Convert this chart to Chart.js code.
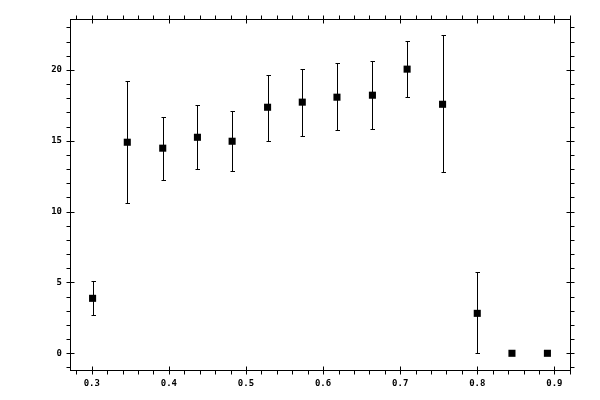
<!DOCTYPE html>
<html>
<head>
<meta charset="utf-8">
<script src="https://cdn.jsdelivr.net/npm/chart.js@4"></script>
<style>
  body { margin: 0; background: #fff; }
  #wrap { width: 600px; height: 400px; }
</style>
</head>
<body>
<div id="wrap"><canvas id="plot"></canvas></div>
<script>
const xValues = [0.301, 0.346, 0.392, 0.437, 0.482, 0.528, 0.573, 0.618, 0.664, 0.709, 0.755, 0.800, 0.845, 0.891];
const yValues = [3.88, 14.9, 14.48, 15.25, 14.97, 17.37, 17.73, 18.08, 18.22, 20.06, 17.58, 2.82, 0, 0];
const errHigh = [5.08, 19.23, 16.67, 17.51, 17.09, 19.68, 20.06, 20.48, 20.62, 22.03, 22.48, 5.74, null, null];
const errLow = [2.68, 10.6, 12.22, 13.0, 12.85, 14.97, 15.32, 15.75, 15.82, 18.08, 12.78, 0, null, null];
const xTicks = [0.3, 0.4, 0.5, 0.6, 0.7, 0.8, 0.9];
const yTicks = [0, 5, 10, 15, 20];
const xMinor = [];
for (let i = 14; i <= 46; i++) xMinor.push(i / 50);
const yMinor = [];
for (let i = -1; i <= 23; i++) yMinor.push(i);

const points = xValues.map((x, i) => ({ x: x, y: yValues[i] }));

// error bars, drawn under the squares
const errorBars = {
  id: 'errorBars',
  beforeDatasetsDraw(chart) {
    const ctx = chart.ctx;
    const xs = chart.scales.x, ys = chart.scales.y;
    ctx.save();
    ctx.strokeStyle = '#000';
    ctx.lineWidth = 1;
    xValues.forEach((x, i) => {
      if (errHigh[i] == null) return;
      const px = Math.round(xs.getPixelForValue(x)) + 0.5;
      const top = Math.round(ys.getPixelForValue(errHigh[i])) + 0.5;
      const bot = Math.round(ys.getPixelForValue(errLow[i])) + 0.5;
      ctx.beginPath();
      ctx.moveTo(px, top); ctx.lineTo(px, bot);
      ctx.moveTo(px - 2, top); ctx.lineTo(px + 2.5, top);
      ctx.moveTo(px - 2, bot); ctx.lineTo(px + 2.5, bot);
      ctx.stroke();
    });
    ctx.restore();
  }
};

// box round the plot with ticks on all four sides
const frame = {
  id: 'frame',
  afterDraw(chart) {
    const ctx = chart.ctx;
    const a = chart.chartArea;
    const xs = chart.scales.x, ys = chart.scales.y;
    const L = Math.round(a.left) + 0.5, R = Math.round(a.right) + 0.5;
    const T = Math.round(a.top) + 0.5, B = Math.round(a.bottom) + 0.5;
    ctx.save();
    ctx.strokeStyle = '#000';
    ctx.lineWidth = 1;
    ctx.strokeRect(L, T, R - L, B - T);
    ctx.beginPath();
    xMinor.forEach(v => {
      const px = Math.round(xs.getPixelForValue(v)) + 0.5;
      const major = xTicks.some(t => Math.abs(t - v) < 1e-6);
      ctx.moveTo(px, B + 4); ctx.lineTo(px, major ? B - 4 : B);
      ctx.moveTo(px, T - 4); ctx.lineTo(px, major ? T + 4 : T);
    });
    yMinor.forEach(v => {
      const py = Math.round(ys.getPixelForValue(v)) + 0.5;
      const major = yTicks.includes(v);
      ctx.moveTo(L - 4, py); ctx.lineTo(major ? L + 4 : L, py);
      ctx.moveTo(R + 4, py); ctx.lineTo(major ? R - 4 : R, py);
    });
    ctx.stroke();
    ctx.restore();
  }
};

new Chart('plot', {
  type: 'scatter',
  data: {
    datasets: [{
      data: points,
      pointStyle: 'rect',
      pointRadius: 5,
      pointHoverRadius: 5,
      pointBorderWidth: 0,
      backgroundColor: '#000',
      borderColor: '#000'
    }]
  },
  options: {
    responsive: true,
    maintainAspectRatio: false,
    animation: false,
    events: [],
    layout: { padding: { top: 19, right: 30, left: 0, bottom: 0 } },
    plugins: { legend: { display: false }, tooltip: { enabled: false } },
    scales: {
      x: {
        type: 'linear',
        min: 0.2717,
        max: 0.9203,
        afterBuildTicks: axis => { axis.ticks = xTicks.map(v => ({ value: v })); },
        afterFit: s => { s.height = 30; },
        grid: { display: false, drawTicks: false },
        border: { display: false },
        ticks: {
          padding: 8,
          color: '#000',
          maxRotation: 0,
          font: { family: 'DejaVu Sans Mono', size: 9, weight: 'bold' },
          callback: v => v.toFixed(1)
        }
      },
      y: {
        min: -1.18,
        max: 23.6,
        afterBuildTicks: axis => { axis.ticks = yTicks.map(v => ({ value: v })); },
        afterFit: s => { s.width = 70; },
        grid: { display: false, drawTicks: false },
        border: { display: false },
        ticks: {
          padding: 8,
          color: '#000',
          font: { family: 'DejaVu Sans Mono', size: 9, weight: 'bold' },
          callback: v => String(v)
        }
      }
    }
  },
  plugins: [errorBars, frame]
});
</script>
</body>
</html>
